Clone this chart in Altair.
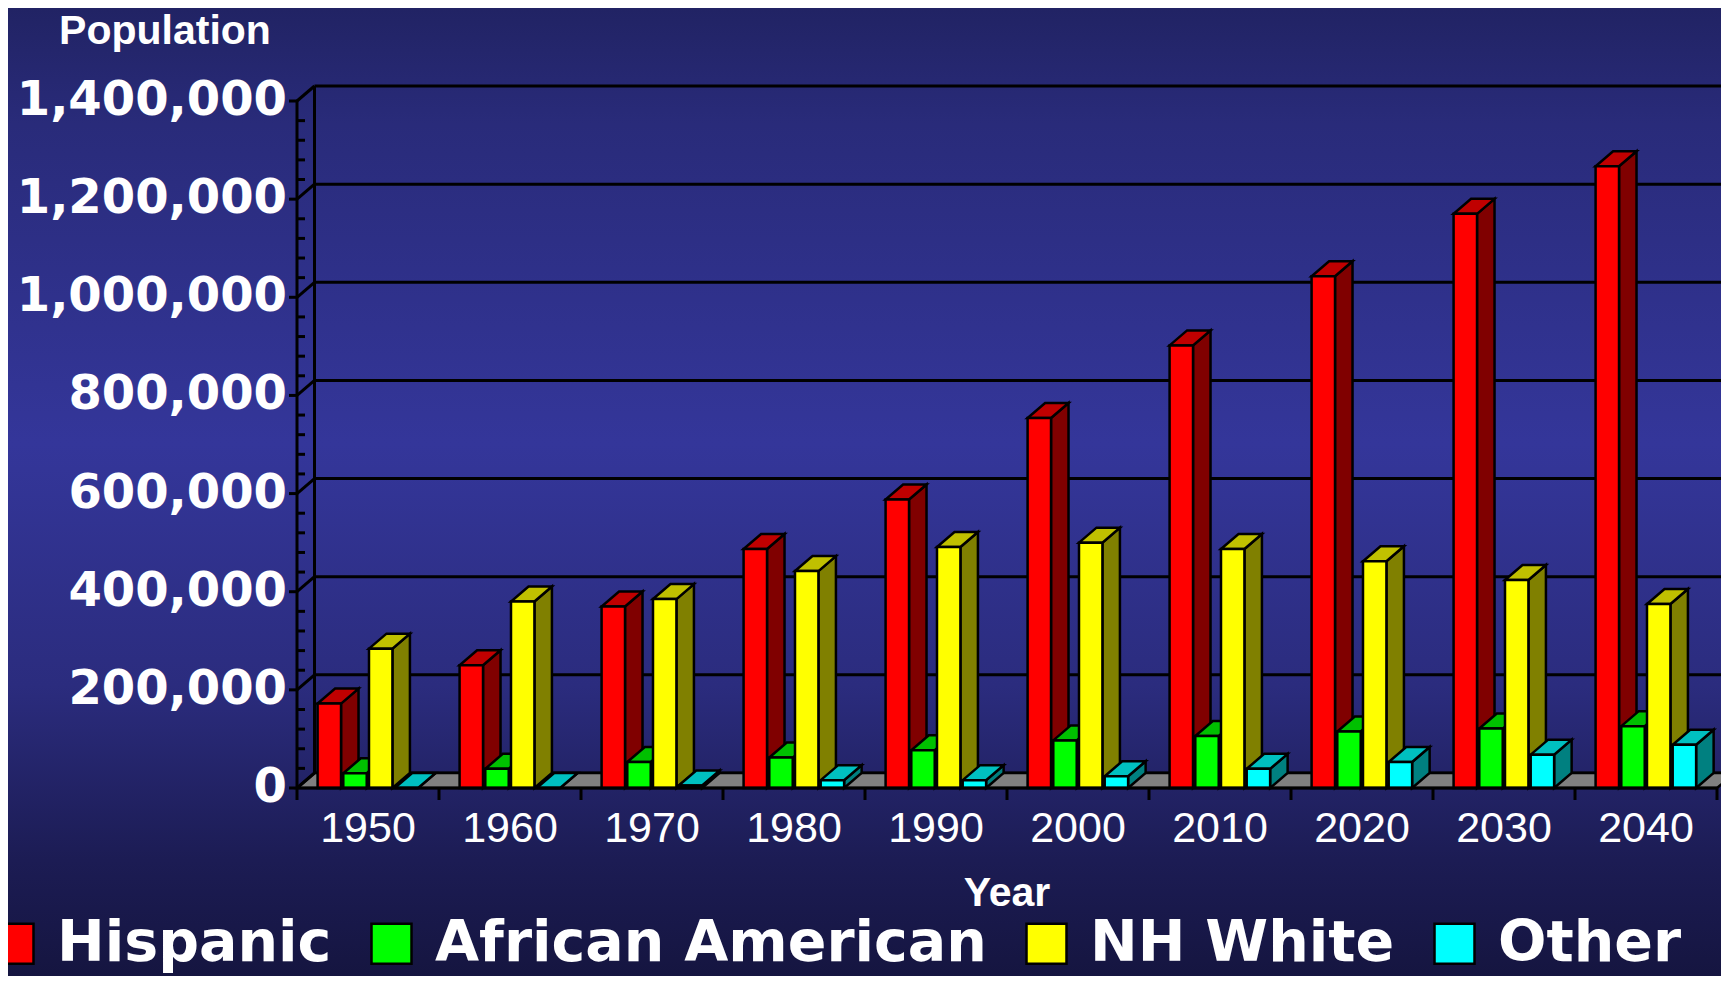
import altair as alt
import pandas as pd

# ---------------- data ----------------
years = ["1950", "1960", "1970", "1980", "1990", "2000", "2010", "2020", "2030", "2040"]
series = ["Hispanic", "African American", "NH White", "Other"]
hispanic = [172000, 250000, 370000, 487000, 588000, 754000, 902000, 1043000, 1170000, 1267000]
african_american = [30000, 39000, 53000, 62000, 77000, 97000, 106000, 115000, 121000, 126000]
nh_white = [284000, 380000, 385000, 442000, 491000, 500000, 487000, 462000, 424000, 375000]
other = [0, 0, 5000, 16000, 16000, 24000, 39000, 53000, 68000, 88000]
y_ticks = [0, 200000, 400000, 600000, 800000, 1000000, 1200000, 1400000]
y_tick_labels = ["0", "200,000", "400,000", "600,000", "800,000", "1,000,000", "1,200,000", "1,400,000"]
minor_step = 40000

# ---------------- styles ----------------
front_colors = ["#ff0000", "#00ff00", "#ffff00", "#00ffff"]
top_colors = ["#c00000", "#00c000", "#c0c000", "#00c0c0"]
side_colors = ["#800000", "#008000", "#808000", "#008080"]
floor_color = "#808080"

W, H = 1713, 968
X_RANGE = [289, 1709]          # pixel range of the category axis (0..10)
Y_RANGE = [780, 93]            # pixel range of the value axis (0..1.4M)
PX_X = (X_RANGE[1] - X_RANGE[0]) / 10.0
PX_Y = (Y_RANGE[0] - Y_RANGE[1]) / 1400000.0

GROUP_OFFSET = 0.145
STRIDE = 0.181
BAR_W = 0.165
DX = 17.5 / PX_X               # 3-D depth, in category units
DY = 15.0 / PX_Y               # 3-D depth, in value units

x_scale = alt.Scale(domain=[0, 10], range=X_RANGE, nice=False, zero=False)
y_scale = alt.Scale(domain=[0, 1400000], range=Y_RANGE, nice=False, zero=False)

values = [hispanic, african_american, nh_white, other]

front_rows, side_rows, top_rows = [], [], []
for i, yr in enumerate(years):
    for j, s in enumerate(series):
        v = values[j][i]
        xl = i + GROUP_OFFSET + j * STRIDE
        xr = xl + BAR_W
        key = f"{yr}-{s}"
        front_rows.append(dict(series=s, year=yr, x=xl, x2=xr, y=0, y2=v))
        side_rows += [
            dict(key=key, x=xr, y=0, y2=v, color=side_colors[j]),
            dict(key=key, x=xr + DX, y=DY, y2=v + DY, color=side_colors[j]),
        ]
        top_rows += [
            dict(key=key, x=xl, y=v, y2=v, color=top_colors[j]),
            dict(key=key, x=xl + DX, y=v, y2=v + DY, color=top_colors[j]),
            dict(key=key, x=xr, y=v, y2=v + DY, color=top_colors[j]),
            dict(key=key, x=xr + DX, y=v + DY, y2=v + DY, color=top_colors[j]),
        ]

front_df = pd.DataFrame(front_rows)
side_df = pd.DataFrame(side_rows)
top_df = pd.DataFrame(top_rows)

floor_df = pd.DataFrame([
    dict(key="floor", x=0, y=0, y2=0),
    dict(key="floor", x=DX, y=0, y2=DY),
    dict(key="floor", x=10, y=0, y2=DY),
    dict(key="floor", x=10 + DX, y=DY, y2=DY),
])

# wall grid lines (back plane)
wall_rows = [dict(x=DX, x2=10.6, y=t + DY, y2=t + DY) for t in y_ticks]
wall_rows.append(dict(x=DX, x2=DX, y=DY, y2=y_ticks[-1] + DY))
wall_df = pd.DataFrame(wall_rows)

# front axis lines
tick_len_x = 8.0 / PX_X
xtick_len = 12.0 / PX_Y
axis_rows = [dict(x=0, x2=0, y=0, y2=y_ticks[-1]), dict(x=0, x2=10, y=0, y2=0)]
for t in y_ticks:
    axis_rows.append(dict(x=-tick_len_x, x2=0, y=t, y2=t))
    axis_rows.append(dict(x=0, x2=DX, y=t, y2=t + DY))
for m in range(0, y_ticks[-1] + 1, minor_step):
    if m % 200000 != 0:
        axis_rows.append(dict(x=0, x2=tick_len_x, y=m, y2=m))
for k in range(0, 11):
    axis_rows.append(dict(x=k, x2=k, y=0, y2=-xtick_len))
axis_df = pd.DataFrame(axis_rows)

ylab_df = pd.DataFrame(dict(x=[0] * len(y_ticks), y=y_ticks, label=y_tick_labels))
xlab_df = pd.DataFrame(dict(x=[i + 0.5 for i in range(len(years))], y=[0] * len(years), label=years))

# ---------------- layers ----------------
bg = alt.Chart(pd.DataFrame({"a": [0]})).mark_rect(
    color=alt.LinearGradient(
        gradient="linear", x1=0, x2=0, y1=0, y2=1,
        stops=[
            alt.GradientStop(offset=0.0, color="#212364"),
            alt.GradientStop(offset=0.12, color="#292b7a"),
            alt.GradientStop(offset=0.45, color="#34369a"),
            alt.GradientStop(offset=0.70, color="#2b2c7e"),
            alt.GradientStop(offset=0.88, color="#1c1c54"),
            alt.GradientStop(offset=1.0, color="#151540"),
        ],
    )
).encode(x=alt.value(0), x2=alt.value(W), y=alt.value(0), y2=alt.value(H))

X = lambda f="x": alt.X(f"{f}:Q", scale=x_scale, axis=None)
Y = lambda f="y": alt.Y(f"{f}:Q", scale=y_scale, axis=None)

wall = alt.Chart(wall_df).mark_rule(color="black", strokeWidth=3).encode(
    x=X(), x2="x2:Q", y=Y(), y2="y2:Q")

floor = alt.Chart(floor_df).mark_area(
    color=floor_color, stroke="black", strokeWidth=2.5, strokeJoin="miter", opacity=1
).encode(x=X(), y=Y(), y2="y2:Q", detail="key:N")

sides = alt.Chart(side_df).mark_area(
    stroke="black", strokeWidth=2.5, strokeJoin="miter", opacity=1
).encode(x=X(), y=Y(), y2="y2:Q", detail="key:N",
         fill=alt.Fill("color:N", scale=None))

tops = alt.Chart(top_df).mark_area(
    stroke="black", strokeWidth=2.5, strokeJoin="miter", opacity=1
).encode(x=X(), y=Y(), y2="y2:Q", detail="key:N",
         fill=alt.Fill("color:N", scale=None))

fronts = alt.Chart(front_df).mark_rect(
    stroke="black", strokeWidth=2.5, strokeJoin="miter", opacity=1
).encode(
    x=X(), x2="x2:Q", y=Y(), y2="y2:Q",
    fill=alt.Fill(
        "series:N",
        scale=alt.Scale(domain=series, range=front_colors),
        sort=series,
        legend=alt.Legend(
            orient="none", legendX=-23, legendY=907, direction="horizontal",
            title=None, symbolType="square", symbolSize=1600,
            symbolStrokeColor="black", symbolStrokeWidth=2.5, symbolOpacity=1,
            labelFont="DejaVu Sans", labelFontWeight="bold", labelFontSize=57,
            labelColor="white", labelOffset=15, columnPadding=31, padding=0,
            labelLimit=0,
        ),
    ),
)

axis_lines = alt.Chart(axis_df).mark_rule(color="black", strokeWidth=3).encode(
    x=X(), x2="x2:Q", y=Y(), y2="y2:Q")

ylabels = alt.Chart(ylab_df).mark_text(
    align="right", baseline="middle", dx=-10, font="DejaVu Sans",
    fontWeight="bold", fontSize=48, color="white"
).encode(x=X(), y=Y(), text="label:N")

xlabels = alt.Chart(xlab_df).mark_text(
    align="center", baseline="middle", dy=41, font="Liberation Sans",
    fontSize=43, color="white"
).encode(x=X(), y=Y(), text="label:N")

year_title = alt.Chart(pd.DataFrame({"x": [5.0], "y": [0], "t": ["Year"]})).mark_text(
    align="center", baseline="middle", dy=106, font="Liberation Sans Narrow, Liberation Sans",
    fontWeight="bold", fontSize=41, color="white"
).encode(x=X(), y=Y(), text="t:N")

pop_title = alt.Chart(pd.DataFrame({"t": ["Population"]})).mark_text(
    align="center", baseline="top", font="Liberation Sans",
    fontWeight="bold", fontSize=41, color="white"
).encode(x=alt.value(157), y=alt.value(4), text="t:N")

chart = alt.layer(
    bg, wall, floor, sides, tops, fronts, axis_lines, ylabels, xlabels, year_title, pop_title
).properties(
    width=W, height=H, padding=0,
    autosize=alt.AutoSizeParams(type="none"),
    background="#1c1d55",
).configure_view(stroke=None)

chart.save("out.html", embed_options={"renderer": "svg", "actions": False})
